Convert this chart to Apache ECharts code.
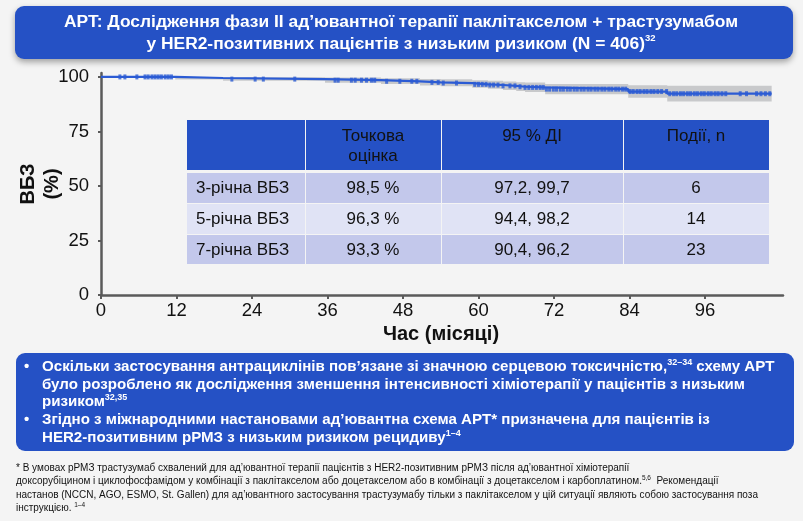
<!DOCTYPE html>
<html><head><meta charset="utf-8">
<script src="https://cdn.jsdelivr.net/npm/echarts@6/dist/echarts.min.js"></script>
<style>html,body{margin:0;padding:0;background:#f4f4f4;}#c{width:803px;height:521px;}</style>
</head><body><div id="c"></div>
<script>
// Kaplan–Meier step curve (months, % DFS)
const kmTime = [0, 11.8, 19.4, 35.6, 44.5, 50.7, 54.0, 59.0, 61.5, 63.9, 66.0, 67.4, 70.6, 83.8, 90.0, 106.6];
const kmSurv = [100, 99.5, 99.0, 98.5, 98.0, 97.5, 97.2, 96.6, 96.3, 95.9, 95.5, 95.2, 94.4, 93.3, 92.3, 92.3];
const ciLower = [100, 98.8, 98.2, 97.3, 96.7, 96.1, 95.7, 95.0, 94.6, 94.0, 93.5, 93.1, 92.0, 90.5, 88.7, 88.7];
const ciUpper = [100, 100, 99.8, 99.7, 99.4, 99.1, 98.9, 98.5, 98.2, 97.9, 97.6, 97.4, 96.8, 96.2, 96.0, 96.0];
const censorTimes = [3.0, 3.8, 5.7, 7.0, 7.5, 8.1, 8.6, 9.1, 9.6, 10.2, 10.7, 11.2,
  20.8, 24.5, 25.8, 30.8, 37.2, 37.7, 39.8, 40.4, 41.4, 42.2, 43.0, 43.5, 45.4, 47.5, 49.4, 50.2,
  52.6, 53.6, 54.4, 56.5, 59.4, 60.0, 60.6, 61.2, 61.8, 62.4, 63.1, 63.9, 65.0, 65.8, 66.6,
  67.4, 68.0, 68.6, 69.2, 69.8, 70.3, 70.8, 71.3, 71.9, 72.4, 73.0, 73.5, 74.1, 74.6, 75.2, 75.7,
  76.3, 76.8, 77.4, 77.9, 78.5, 79.0, 79.6, 80.1, 80.7, 81.2, 81.8, 82.3, 82.9, 83.4,
  84.1, 84.6, 85.2, 85.7, 86.3, 86.8, 87.4, 87.9, 88.5, 89.1, 89.9, 90.4, 91.0, 91.5, 92.1, 92.6,
  93.2, 93.7, 94.3, 94.8, 95.4, 95.9, 96.5, 97.0, 97.6, 98.1, 98.7, 99.3, 101.6, 102.6, 104.2, 104.9, 105.6, 106.3];
const xTicks = [0, 12, 24, 36, 48, 60, 72, 84, 96];
const yTicks = [0, 25, 50, 75, 100];
const tableHeader = ['', 'Точкова\nоцінка', '95 % ДІ', 'Події, n'];
const rowLabels = ['3-річна ВБЗ', '5-річна ВБЗ', '7-річна ВБЗ'];
const pointEst = ['98,5 %', '96,3 %', '93,3 %'];
const ci95 = ['97,2, 99,7', '94,4, 98,2', '90,4, 96,2'];
const eventsN = ['6', '14', '23'];

const BLUE = '#2551c5';
const LINE = '#2b5bd4';
const F = '"Liberation Sans", Arial, sans-serif';

function survAt(t) { let s = kmSurv[0]; for (let i = 0; i < kmTime.length; i++) { if (kmTime[i] <= t) s = kmSurv[i]; } return s; }

const chart = echarts.init(document.getElementById('c'), null, { renderer: 'canvas' });

// table graphics
const colX = [187, 305, 441, 623, 769];
const rowY = [120, 172, 203, 234, 264];
const tbl = [];
for (let c = 0; c < 4; c++) {
  tbl.push({ type: 'rect', shape: { x: colX[c] + (c ? 1 : 0), y: rowY[0], width: colX[c + 1] - colX[c] - (c ? 1 : 0), height: rowY[1] - rowY[0] - 2 }, style: { fill: BLUE } });
  if (tableHeader[c]) tbl.push({ type: 'text', x: (colX[c] + colX[c + 1]) / 2, y: 126, style: { text: tableHeader[c], fill: '#111', font: '17px ' + F, align: 'center', verticalAlign: 'top', lineHeight: 20 } });
}
const cols = [rowLabels, pointEst, ci95, eventsN];
for (let r = 0; r < 3; r++) {
  const fill = r === 1 ? '#e0e3f5' : '#c3c8eb';
  for (let c = 0; c < 4; c++) {
    tbl.push({ type: 'rect', shape: { x: colX[c] + (c ? 1 : 0), y: rowY[r + 1] + 1, width: colX[c + 1] - colX[c] - (c ? 1 : 0), height: rowY[r + 2] - rowY[r + 1] - 1 }, style: { fill } });
    tbl.push({ type: 'text', x: c === 0 ? 196 : (colX[c] + colX[c + 1]) / 2, y: (rowY[r + 1] + rowY[r + 2]) / 2 + 1, style: { text: cols[c][r], fill: '#111', font: '17px ' + F, align: c === 0 ? 'left' : 'center', verticalAlign: 'middle' } });
  }
}

const supStyle = (size, color) => ({ fontSize: size, fontWeight: 'bold', fontFamily: F, color, verticalAlign: 'top', lineHeight: 12 });

// step-shaped confidence band polygon built through the axis scales
function bandItem(params, api) {
  if (params.dataIndex !== 0) return null;
  const n = kmTime.length;
  const pts = [];
  for (let i = 0; i < n; i++) {
    pts.push(api.coord([kmTime[i], ciUpper[i]]));
    if (i < n - 1) pts.push(api.coord([kmTime[i + 1], ciUpper[i]]));
  }
  for (let i = n - 1; i >= 0; i--) {
    if (i < n - 1) pts.push(api.coord([kmTime[i + 1], ciLower[i]]));
    pts.push(api.coord([kmTime[i], ciLower[i]]));
  }
  return { type: 'polygon', shape: { points: pts }, style: { fill: '#c8c9cb' } };
}

const option = {
  backgroundColor: '#f4f4f4',
  animation: false,
  grid: { left: 101, right: 20, top: 73, bottom: 226 },
  xAxis: {
    type: 'value', min: 0, max: 108.4, interval: 12,
    axisLine: { lineStyle: { color: '#5a5a5a', width: 2.5 } },
    axisTick: { show: true, length: 4, lineStyle: { color: '#5a5a5a', width: 2 }, customValues: xTicks },
    axisLabel: { customValues: xTicks, fontSize: 18.5, color: '#111', margin: 6, fontFamily: F },
    splitLine: { show: false }
  },
  yAxis: {
    type: 'value', min: 0, max: 101.8, interval: 25,
    axisLine: { show: true, lineStyle: { color: '#5a5a5a', width: 2.5 } },
    axisTick: { show: true, length: 3, lineStyle: { color: '#5a5a5a', width: 2 }, customValues: yTicks },
    axisLabel: { customValues: yTicks, fontSize: 18.5, color: '#111', margin: 12, fontFamily: F },
    splitLine: { show: false }
  },
  series: [
    { type: 'custom', silent: true, renderItem: bandItem, encode: { x: 0, y: [1, 2] },
      data: kmTime.map((t, i) => [t, ciLower[i], ciUpper[i]]) },
    { type: 'line', step: 'end', symbol: 'none', lineStyle: { color: LINE, width: 2.2 },
      data: kmTime.map((t, i) => [t, kmSurv[i]]) },
    { type: 'scatter', symbol: 'rect', symbolSize: [3, 5], itemStyle: { color: LINE },
      data: censorTimes.map(t => [t, survAt(t)]) }
  ],
  graphic: [
    { type: 'rect', shape: { x: 15, y: 6, width: 778, height: 53, r: 9 }, style: { fill: BLUE, shadowBlur: 6, shadowOffsetY: 3, shadowColor: 'rgba(0,0,0,0.35)' } },
    { type: 'text', x: 401, y: 33, style: {
      text: '{t|APT: Дослідження фази II ад’ювантної терапії паклітакселом + трастузумабом}\n{t|у HER2-позитивних пацієнтів з низьким ризиком (N = 406)}{s|32}',
      align: 'center', verticalAlign: 'middle', fill: '#fff',
      rich: { t: { fontSize: 17.4, fontWeight: 'bold', fontFamily: F, color: '#fff', lineHeight: 22 }, s: supStyle(9.5, '#fff') } } },
    { type: 'text', x: 40, y: 184, rotation: Math.PI / 2, style: { text: 'ВБЗ\n(%)', align: 'center', verticalAlign: 'middle', fill: '#111', font: 'bold 20px ' + F, lineHeight: 24 } },
    { type: 'text', x: 441, y: 334, style: { text: 'Час (місяці)', align: 'center', verticalAlign: 'middle', fill: '#111', font: 'bold 20px ' + F } },
    ...tbl,
    { type: 'rect', shape: { x: 16, y: 353, width: 778, height: 98, r: 9 }, style: { fill: BLUE } },
    { type: 'text', x: 24, y: 367, style: { text: '•', fill: '#fff', font: 'bold 15px ' + F, verticalAlign: 'middle' } },
    { type: 'text', x: 24, y: 420, style: { text: '•', fill: '#fff', font: 'bold 15px ' + F, verticalAlign: 'middle' } },
    { type: 'text', x: 42, y: 358, style: {
      text: '{t|Оскільки застосування антрациклінів пов’язане зі значною серцевою токсичністю,}{s|32–34}{t| схему APT}\n{t|було розроблено як дослідження зменшення інтенсивності хіміотерапії у пацієнтів з низьким}\n{t|ризиком}{s|32,35}\n{t|Згідно з міжнародними настановами ад’ювантна схема APT* призначена для пацієнтів із}\n{t|HER2-позитивним рРМЗ з низьким ризиком рецидиву}{s|1–4}',
      align: 'left', verticalAlign: 'top', fill: '#fff',
      rich: { t: { fontSize: 15.1, fontWeight: 'bold', fontFamily: F, color: '#fff', lineHeight: 17.7 }, s: supStyle(9, '#fff') } } },
    { type: 'text', x: 16, y: 461, style: {
      text: '{t|* В умовах рРМЗ трастузумаб схвалений для ад’ювантної терапії пацієнтів з HER2-позитивним рРМЗ після ад’ювантної хіміотерапії}\n{t|доксорубіцином і циклофосфамідом у комбінації з паклітакселом або доцетакселом або в комбінації з доцетакселом і карбоплатином.}{s|5,6}{t|  Рекомендації}\n{t|настанов (NCCN, AGO, ESMO, St. Gallen) для ад’ювантного застосування трастузумабу тільки з паклітакселом у цій ситуації являють собою застосування поза}\n{t|інструкцією. }{s|1–4}',
      align: 'left', verticalAlign: 'top', fill: '#111',
      rich: { t: { fontSize: 10, fontFamily: F, color: '#111', lineHeight: 13.6 }, s: { fontSize: 6.5, fontFamily: F, color: '#111', verticalAlign: 'top', lineHeight: 9 } } } }
  ]
};
chart.setOption(option);
</script></body></html>
